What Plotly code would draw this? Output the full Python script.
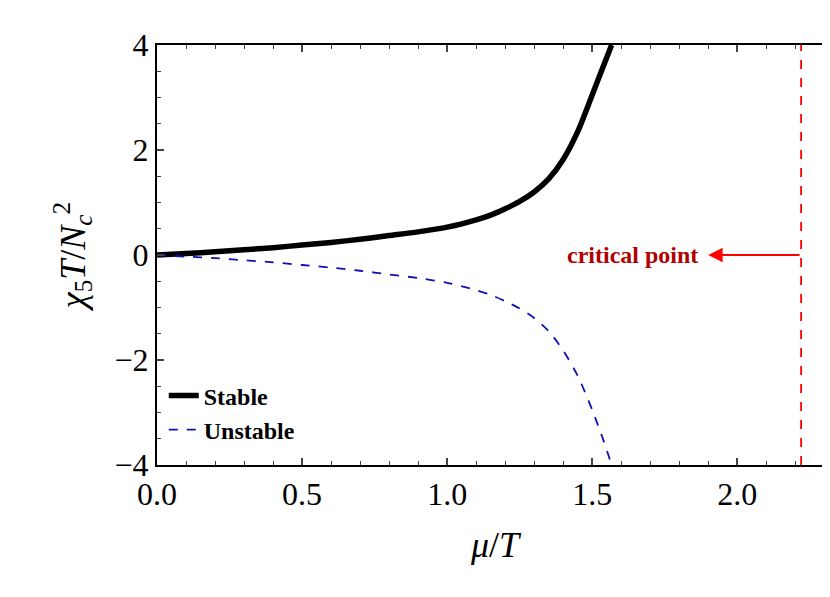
import plotly.graph_objects as go

mu = [0.0, 0.1, 0.2, 0.3, 0.4, 0.5, 0.6, 0.7, 0.8, 0.9, 1.0, 1.1, 1.15, 1.2, 1.25, 1.3, 1.35, 1.4, 1.45, 1.5, 1.54, 1.567]
stable = [0.0, 0.03, 0.06, 0.10, 0.14, 0.19, 0.24, 0.30, 0.37, 0.44, 0.53, 0.67, 0.76, 0.88, 1.02, 1.2, 1.45, 1.82, 2.35, 3.05, 3.62, 4.0]
unstable = [0.0, -0.03, -0.06, -0.10, -0.14, -0.19, -0.24, -0.30, -0.37, -0.44, -0.53, -0.67, -0.76, -0.88, -1.02, -1.2, -1.45, -1.82, -2.3, -2.95, -3.55, -4.0]
mu_crit = 2.22
arrow_tip = 1.90

serif = "Liberation Serif, DejaVu Serif, serif"

fig = go.Figure()
fig.add_trace(go.Scatter(x=mu, y=stable, mode="lines", name="<b>Stable</b>",
                         line=dict(color="black", width=5.5, shape="spline", smoothing=0.8)))
fig.add_trace(go.Scatter(x=mu, y=unstable, mode="lines", name="<b>Unstable</b>",
                         line=dict(color="#1010b0", width=1.8, dash="dash", shape="spline", smoothing=0.8)))
fig.add_shape(type="line", x0=mu_crit, x1=mu_crit, y0=-4, y1=4,
              line=dict(color="red", width=1.8, dash="dash"))
fig.add_annotation(x=arrow_tip, y=0, ax=mu_crit, ay=0, xref="x", yref="y", axref="x", ayref="y",
                   showarrow=True, arrowhead=2, arrowsize=1.6, arrowwidth=1.8, arrowcolor="red", text="")
fig.add_annotation(x=arrow_tip - 0.03, y=0, text="<b>critical point</b>", showarrow=False,
                   xanchor="right", font=dict(family=serif, size=24, color="#b00000"))

axis = dict(showgrid=False, zeroline=False, showline=True, linecolor="black", linewidth=2,
            mirror="ticks", ticks="inside", ticklen=7, tickwidth=1.5, automargin=False,
            minor=dict(ticks="inside", ticklen=4, tickwidth=1),
            tickfont=dict(family=serif, size=32, color="black"))
fig.update_xaxes(**axis, range=[0, 2.33], dtick=0.5, tickformat=".1f",
                 title=dict(text="<i>μ</i>/<i>T</i>", font=dict(family=serif, size=36, color="black"),
                            standoff=20))
fig.update_yaxes(**axis, range=[-4, 4], dtick=2,
                 title=dict(text="<i>χ</i><sub>5</sub><i>T</i>/<i>N</i><sub><i>c</i></sub><sup>2</sup>",
                            font=dict(family=serif, size=36, color="black"), standoff=18))
fig.update_xaxes(minor_dtick=0.1)
fig.update_yaxes(minor_dtick=0.5)
fig.update_layout(width=830, height=597, plot_bgcolor="white", paper_bgcolor="white",
                  margin=dict(l=149, r=5, t=37, b=140),
                  legend=dict(x=0.01, y=0.03, xanchor="left", yanchor="bottom",
                              bgcolor="rgba(0,0,0,0)", font=dict(family=serif, size=24, color="black")))
fig.write_html("out.html")
